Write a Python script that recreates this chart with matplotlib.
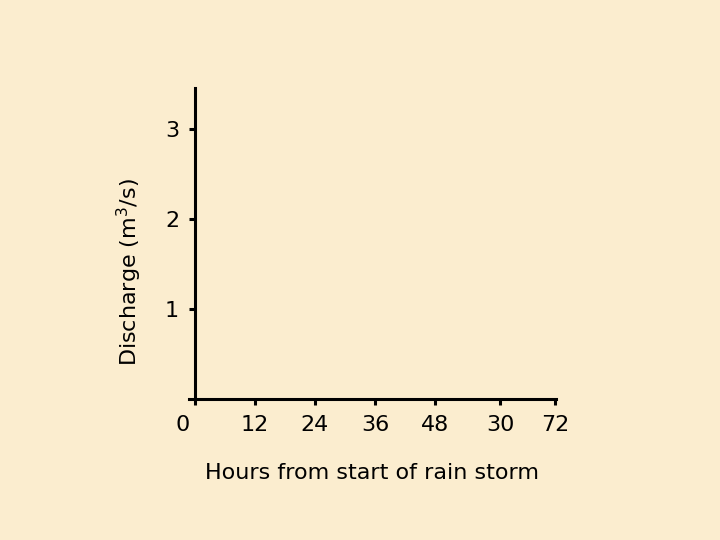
import matplotlib
matplotlib.use("Agg")
import matplotlib.pyplot as plt
import matplotlib.transforms as mtransforms

# axis ticks (the chart itself is an empty hydrograph frame)
x_ticks = [0, 12, 24, 36, 48, 61, 72]
x_labels = ["0", "12", "24", "36", "48", "30", "72"]
y_ticks = [1, 2, 3]
y_labels = ["1", "2", "3"]

bg = "#FBEDCF"

fig = plt.figure(figsize=(7.2, 5.4), dpi=100, facecolor=bg)
ax = fig.add_axes([0.2625, 0.2611, 0.5097, 0.5759])
ax.set_facecolor(bg)

ax.set_xlim(-1.2, 72.2)
ax.set_ylim(0, 3.45)

for s in ["top", "right"]:
    ax.spines[s].set_visible(False)
ax.spines["left"].set_position(("data", 0))
for s in ["left", "bottom"]:
    ax.spines[s].set_linewidth(2.2)
    ax.spines[s].set_color("black")

ax.set_xticks(x_ticks)
ax.set_xticklabels(x_labels)
ax.set_yticks(y_ticks)
ax.set_yticklabels(y_labels)
ax.tick_params(axis="both", direction="out", length=4.5, width=2.2,
               labelsize=16, colors="black")
ax.tick_params(axis="x", pad=7)
ax.tick_params(axis="y", pad=7)

# the "0" label sits left of the origin tick
first = ax.get_xticklabels()[0]
first.set_transform(first.get_transform() +
                    mtransforms.ScaledTranslation(-12 / 100, 0, fig.dpi_scale_trans))

ax.set_xlabel("Hours from start of rain storm", fontsize=16, labelpad=20)
ax.set_ylabel("Discharge (m$^3$/s)", fontsize=16)
ax.yaxis.set_label_coords(-0.122, 0.408)

fig.savefig("out.png", dpi=100, facecolor=bg)
